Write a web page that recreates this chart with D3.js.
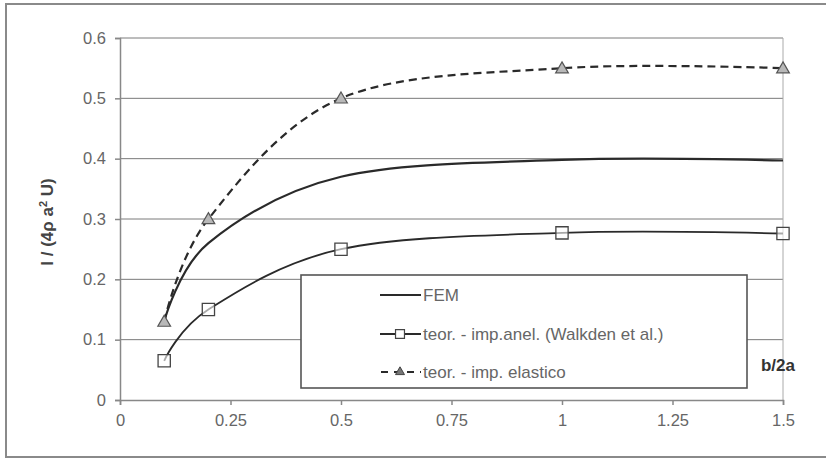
<!DOCTYPE html>
<html>
<head>
<meta charset="utf-8">
<title>I / (4ρ a² U) vs b/2a</title>
<script src="https://cdn.jsdelivr.net/npm/d3@7"></script>
<style>
  body { margin: 0; background: #fff; }
  svg { font-family: "Liberation Sans", Arial, sans-serif; }
</style>
</head>
<body>
<script>
// data
var xVals = [0.1, 0.2, 0.5, 1, 1.5];
var femVals = [0.13, 0.26, 0.37, 0.398, 0.397];
var walkdenVals = [0.065, 0.15, 0.25, 0.277, 0.276];
var elasticoVals = [0.13, 0.30, 0.50, 0.55, 0.55];
var xTicks = [0, 0.25, 0.5, 0.75, 1, 1.25, 1.5];
var yTicks = [0, 0.1, 0.2, 0.3, 0.4, 0.5, 0.6];
var legendNames = ["FEM", "teor. - imp.anel. (Walkden et al.)", "teor. - imp. elastico"];

var width = 826, height = 459;
var margin = {top: 38, right: 43, bottom: 59, left: 120};

var svg = d3.select("body").append("svg")
  .attr("width", width)
  .attr("height", height);

// outer frame (open on the right, like the cropped original)
svg.append("path")
  .attr("d", "M830,4 H6 V457 H830")
  .attr("fill", "none")
  .attr("stroke", "#8a8a8a")
  .attr("stroke-width", 2);

var x = d3.scaleLinear().domain([0, 1.5]).range([margin.left, width - margin.right]);
var y = d3.scaleLinear().domain([0, 0.6]).range([height - margin.bottom, margin.top]);

// horizontal grid
svg.append("g")
  .selectAll("line")
  .data(yTicks.slice(1))
  .enter().append("line")
  .attr("x1", x(0)).attr("x2", x(1.5))
  .attr("y1", function(d){ return y(d); })
  .attr("y2", function(d){ return y(d); })
  .attr("stroke", "#7a7a7a")
  .attr("stroke-width", 1);

// right border of plot area
svg.append("line")
  .attr("x1", x(1.5)).attr("x2", x(1.5))
  .attr("y1", y(0.6)).attr("y2", y(0))
  .attr("stroke", "#aaa");

var yAxis = svg.append("g")
  .attr("transform", "translate(" + x(0) + ",0)")
  .call(d3.axisLeft(y).tickValues(yTicks).tickFormat(d3.format("")).tickSize(5).tickPadding(9));
var xAxis = svg.append("g")
  .attr("transform", "translate(0," + y(0) + ")")
  .call(d3.axisBottom(x).tickValues(xTicks).tickFormat(d3.format("")).tickSize(5).tickPadding(9));

[xAxis, yAxis].forEach(function(ax){
  ax.select(".domain").attr("stroke", "#888").attr("stroke-width", 1.5);
  ax.selectAll(".tick line").attr("stroke", "#888").attr("stroke-width", 1.5);
  ax.selectAll(".tick text")
    .attr("fill", "#666")
    .style("font-size", "16.5px");
});

// lines
var line = d3.line()
  .x(function(d){ return x(d[0]); })
  .y(function(d){ return y(d[1]); })
  .curve(d3.curveCatmullRom.alpha(0));

function pts(vals){ return xVals.map(function(v, i){ return [v, vals[i]]; }); }

svg.append("path")
  .datum(pts(femVals))
  .attr("d", line)
  .attr("fill", "none")
  .attr("stroke", "#2a2a2a")
  .attr("stroke-width", 2.2);

svg.append("path")
  .datum(pts(walkdenVals))
  .attr("d", line)
  .attr("fill", "none")
  .attr("stroke", "#2a2a2a")
  .attr("stroke-width", 1.8);

svg.append("path")
  .datum(pts(elasticoVals))
  .attr("d", line)
  .attr("fill", "none")
  .attr("stroke", "#2a2a2a")
  .attr("stroke-width", 2.2)
  .attr("stroke-dasharray", "8,5");

// markers
var square = d3.symbol().type(d3.symbolSquare).size(150);
var triangle = d3.symbol().type(d3.symbolTriangle).size(70);

svg.append("g").selectAll("path")
  .data(pts(walkdenVals))
  .enter().append("path")
  .attr("d", square)
  .attr("transform", function(d){ return "translate(" + x(d[0]) + "," + y(d[1]) + ")"; })
  .attr("fill", "#fff")
  .attr("fill-opacity", 0.6)
  .attr("stroke", "#444")
  .attr("stroke-width", 1.3);

svg.append("g").selectAll("path")
  .data(pts(elasticoVals))
  .enter().append("path")
  .attr("d", triangle)
  .attr("transform", function(d){ return "translate(" + x(d[0]) + "," + (y(d[1]) + 1) + ")"; })
  .attr("fill", "#b8b8b8")
  .attr("stroke", "#555")
  .attr("stroke-width", 1.2);

// legend
var legend = svg.append("g");
legend.append("rect")
  .attr("x", 301).attr("y", 275)
  .attr("width", 446).attr("height", 113)
  .attr("fill", "#fff")
  .attr("stroke", "#555")
  .attr("stroke-width", 1.6);

var rowY = [295, 334, 372];
legendNames.forEach(function(name, i){
  var g = legend.append("g").attr("transform", "translate(0," + rowY[i] + ")");
  var l = g.append("line")
    .attr("x1", 380).attr("x2", 421)
    .attr("stroke", "#2a2a2a")
    .attr("stroke-width", 2);
  if (i == 2) {
    l.attr("stroke-dasharray", "7,6").attr("stroke-dashoffset", -1);
    g.append("path").attr("d", triangle.size(35))
      .attr("transform", "translate(400,0)")
      .attr("fill", "#777").attr("stroke", "#444");
  }
  if (i == 1) {
    g.append("path").attr("d", square.size(80))
      .attr("transform", "translate(400,0)")
      .attr("fill", "#fff").attr("stroke", "#444").attr("stroke-width", 1.2);
  }
  g.append("text")
    .attr("x", 423).attr("y", 6)
    .attr("fill", "#666")
    .style("font-size", "17px")
    .text(name);
});

// axis titles
svg.append("text")
  .attr("x", 795).attr("y", 371)
  .attr("text-anchor", "end")
  .attr("fill", "#333")
  .style("font-size", "17px")
  .style("font-weight", "bold")
  .text("b/2a");

var yt = svg.append("text")
  .attr("transform", "translate(53,222) rotate(-90)")
  .attr("text-anchor", "middle")
  .attr("fill", "#444")
  .style("font-size", "17px")
  .style("font-weight", "bold");
yt.append("tspan").text("I / (4ρ a");
yt.append("tspan").attr("dy", -6).style("font-size", "11px").text("2");
yt.append("tspan").attr("dy", 6).text(" U)");
</script>
</body>
</html>
